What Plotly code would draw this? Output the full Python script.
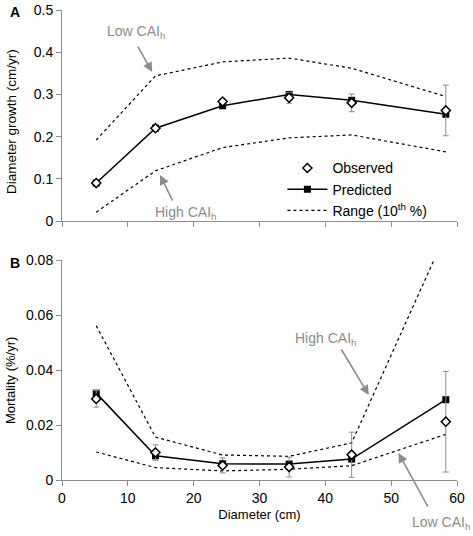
import plotly.graph_objects as go
from plotly.subplots import make_subplots

diameter = [5.2, 14.2, 24.4, 34.5, 44.0, 58.3]

growth_obs = [0.090, 0.220, 0.283, 0.292, 0.280, 0.262]
growth_obs_err = [0.004, 0.004, 0.006, 0.013, 0.021, 0.060]
growth_pred = [0.090, 0.220, 0.273, 0.300, 0.286, 0.253]
growth_high = [0.192, 0.344, 0.377, 0.386, 0.362, 0.295]
growth_low = [0.021, 0.119, 0.174, 0.197, 0.204, 0.164]

mort_obs = [0.0295, 0.0100, 0.0053, 0.0047, 0.0092, 0.0212]
mort_obs_err = [0.0030, 0.0028, 0.0027, 0.0036, 0.0082, 0.0183]
mort_pred = [0.0316, 0.0088, 0.0059, 0.0058, 0.0076, 0.0292]
mort_high = [0.0561, 0.0156, 0.0091, 0.0086, 0.0135, 0.0896]
mort_low = [0.0102, 0.0045, 0.0033, 0.0039, 0.0052, 0.0166]

x_ticks = [0, 10, 20, 30, 40, 50, 60]

FONT = "Liberation Sans, Arial, sans-serif"
GRAY = "#8c8c8c"
AXC = "#8c8c8c"
DASH = "3px,3px"

fig = make_subplots(rows=2, cols=1, shared_xaxes=True, vertical_spacing=0.0)

def add_panel(row, obs, err, pred, hi, lo, show):
    fig.add_trace(go.Scatter(x=diameter, y=hi, mode="lines",
                             line=dict(color="black", width=1.2, dash=DASH),
                             name="Range (10<sup>th</sup> %)", showlegend=show,
                             legendrank=3), row=row, col=1)
    fig.add_trace(go.Scatter(x=diameter, y=lo, mode="lines",
                             line=dict(color="black", width=1.2, dash=DASH),
                             showlegend=False), row=row, col=1)
    fig.add_trace(go.Scatter(x=diameter, y=pred, mode="lines+markers",
                             line=dict(color="black", width=1.5),
                             marker=dict(symbol="square", size=7, color="black"),
                             name="Predicted", showlegend=show, legendrank=2),
                  row=row, col=1)
    fig.add_trace(go.Scatter(x=diameter, y=obs, mode="markers",
                             marker=dict(symbol="diamond", size=7, color="white",
                                         line=dict(color="black", width=1.5)),
                             error_y=dict(type="data", array=err, color=GRAY,
                                          thickness=1, width=3),
                             name="Observed", showlegend=show, legendrank=1),
                  row=row, col=1)

add_panel(1, growth_obs, growth_obs_err, growth_pred, growth_high, growth_low, True)
add_panel(2, mort_obs, mort_obs_err, mort_pred, mort_high, mort_low, False)

axis_common = dict(showline=True, linecolor=AXC, linewidth=1, ticks="outside",
                   tickcolor=AXC, ticklen=5, showgrid=False, zeroline=False,
                   automargin=False,
                   tickfont=dict(size=14, color="black", family=FONT))

fig.update_xaxes(range=[0, 60], tickvals=x_ticks, **axis_common)
fig.update_xaxes(showticklabels=False, row=1, col=1)
fig.update_xaxes(title=dict(text="Diameter (cm)", font=dict(size=13, family=FONT),
                            standoff=5), row=2, col=1)
fig.update_yaxes(**axis_common)
fig.update_yaxes(range=[0, 0.5], dtick=0.1, row=1, col=1)
fig.update_yaxes(range=[0, 0.08], dtick=0.02, row=2, col=1)

fig.update_layout(yaxis=dict(domain=[0.551, 1.0]), yaxis2=dict(domain=[0.0, 0.468]))

ann = []
def txt(text, x, y, xref, yref):
    ann.append(dict(text=text, x=x, y=y, xref=xref, yref=yref, showarrow=False,
                    xanchor="center", yanchor="middle",
                    font=dict(size=14, color=GRAY, family=FONT)))

def arrow(x, y, ax, ay, xref, yref):
    ann.append(dict(text="", x=x, y=y, ax=ax, ay=ay, xref=xref, yref=yref,
                    axref=xref, ayref=yref, showarrow=True, arrowhead=2,
                    arrowsize=1.2, arrowwidth=1.6, arrowcolor=GRAY))

txt("Low CAI<sub>h</sub>", 11.2, 0.447, "x", "y")
arrow(13.7, 0.353, 11.4, 0.417, "x", "y")
txt("High CAI<sub>h</sub>", 18.7, 0.02, "x", "y")
arrow(14.9, 0.109, 16.9, 0.045, "x", "y")
txt("High CAI<sub>h</sub>", 40.0, 0.0513, "x2", "y2")
arrow(46.6, 0.0309, 42.3, 0.048, "x2", "y2")
txt("Low CAI<sub>h</sub>", 0.96, -0.0915, "paper", "paper")
arrow(51.1, 0.0098, 55.7, -0.0102, "x2", "y2")

# y-axis titles
ann.append(dict(text="Diameter growth (cm/yr)", x=-0.1266, y=0.764,
                xref="paper", yref="paper", textangle=-90, showarrow=False,
                xanchor="center", yanchor="middle",
                font=dict(size=13.5, family=FONT, color="black")))
ann.append(dict(text="Mortality (%/yr)", x=-0.1316, y=0.2106,
                xref="paper", yref="paper", textangle=-90, showarrow=False,
                xanchor="center", yanchor="middle",
                font=dict(size=13, family=FONT, color="black")))

ann.append(dict(text="<b>A</b>", x=-0.118, y=0.995, xref="paper", yref="paper",
                showarrow=False, font=dict(size=14, family=FONT, color="black"),
                xanchor="center", yanchor="middle"))
ann.append(dict(text="<b>B</b>", x=-0.118, y=0.462, xref="paper", yref="paper",
                showarrow=False, font=dict(size=14, family=FONT, color="black"),
                xanchor="center", yanchor="middle"))

fig.update_layout(
    width=473, height=536,
    margin=dict(l=62, r=16, t=10, b=56, autoexpand=False),
    plot_bgcolor="white", paper_bgcolor="white",
    font=dict(family=FONT, size=13, color="black"),
    annotations=ann,
    legend=dict(x=0.558, y=0.697, xanchor="left", yanchor="top",
                bgcolor="rgba(0,0,0,0)", font=dict(size=14, family=FONT),
                tracegroupgap=0, itemwidth=40),
)

fig.write_html("out.html", config={"displayModeBar": False},
               post_script="document.body.style.margin='0';document.body.style.overflow='hidden';")
